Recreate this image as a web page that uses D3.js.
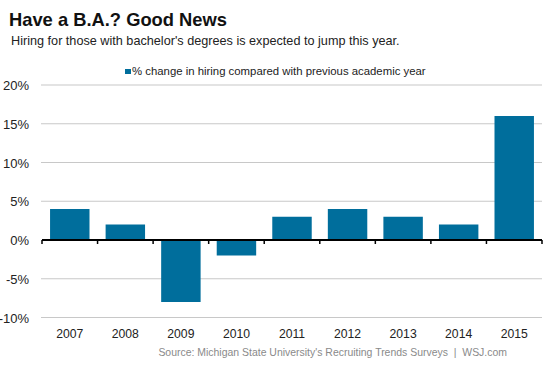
<!DOCTYPE html>
<html><head><meta charset="utf-8">
<script src="https://cdn.jsdelivr.net/npm/d3@7"></script>
<style>body{margin:0;background:#fff;} text{font-family:Arial,"Liberation Sans",sans-serif;}</style>
</head><body>
<svg id="c" width="553" height="369"></svg>
<script>
const years = ["2007","2008","2009","2010","2011","2012","2013","2014","2015"];
const values = [4, 2, -8, -2, 3, 4, 3, 2, 16];
const yTicks = [-10, -5, 0, 5, 10, 15, 20];
const title = "Have a B.A.? Good News";
const subtitle = "Hiring for those with bachelor's degrees is expected to jump this year.";
const legendLabel = "% change in hiring compared with previous academic year";
const source = "Source: Michigan State University's Recruiting Trends Surveys  |  WSJ.com";

const svg = d3.select("#c");
const color = "#006e9c";
const x = d3.scaleBand().domain(years).range([42, 542]).paddingInner(0.29).paddingOuter(0.145);
const y = d3.scaleLinear().domain([-10, 20]).range([317.5, 85]);

function fit(sel, w) {
  const n = sel.node();
  const L = n.getComputedTextLength();
  const fs = parseFloat(sel.attr("font-size"));
  sel.attr("font-size", fs * w / L);
}

svg.append("text").attr("x", 9).attr("y", 26).attr("font-size", 18.4).attr("font-weight", "bold").attr("fill", "#111").text(title).call(fit, 218);
svg.append("text").attr("x", 11).attr("y", 45).attr("font-size", 13).attr("fill", "#222").text(subtitle).call(fit, 389);

// legend
svg.append("rect").attr("x", 125).attr("y", 69).attr("width", 6).attr("height", 5).attr("fill", color);
svg.append("text").attr("x", 132).attr("y", 75).attr("font-size", 11.5).attr("fill", "#222").text(legendLabel).call(fit, 294);

// gridlines
svg.append("g").selectAll("line").data(yTicks.filter(d => d !== 0)).join("line")
  .attr("x1", 41).attr("x2", 542).attr("y1", d => y(d)).attr("y2", d => y(d))
  .attr("stroke", "#c8c8c8").attr("stroke-width", 1.2);

// y labels
svg.append("g").selectAll("text").data(yTicks).join("text")
  .attr("x", 29).attr("y", d => y(d) + 5).attr("text-anchor", "end")
  .attr("font-size", 13).attr("fill", "#222").text(d => d + "%");

// bars
svg.append("g").selectAll("rect").data(values).join("rect")
  .attr("x", (d, i) => x(years[i])).attr("width", x.bandwidth())
  .attr("y", d => y(Math.max(0, d))).attr("height", d => Math.abs(y(d) - y(0)))
  .attr("fill", color);

// zero axis
svg.append("line").attr("x1", 42).attr("x2", 542).attr("y1", y(0)).attr("y2", y(0)).attr("stroke", "#000").attr("stroke-width", 2);
const bpos = years.map((d, i) => 42 + i * x.step()).concat([542]);
svg.append("g").selectAll("line").data(bpos).join("line")
  .attr("x1", d => d).attr("x2", d => d).attr("y1", y(0)).attr("y2", y(0) + 4)
  .attr("stroke", "#000").attr("stroke-width", 1.5);

// x labels
svg.append("g").selectAll("text").data(years).join("text")
  .attr("x", d => x(d) + x.bandwidth() / 2).attr("y", 338).attr("text-anchor", "middle")
  .attr("font-size", 12.2).attr("fill", "#222").text(d => d);

svg.append("text").attr("x", 507).attr("y", 356).attr("text-anchor", "end")
  .attr("font-size", 11).attr("fill", "#8a8a8a").style("white-space", "pre").text(source).call(fit, 349);
</script>
</body></html>
